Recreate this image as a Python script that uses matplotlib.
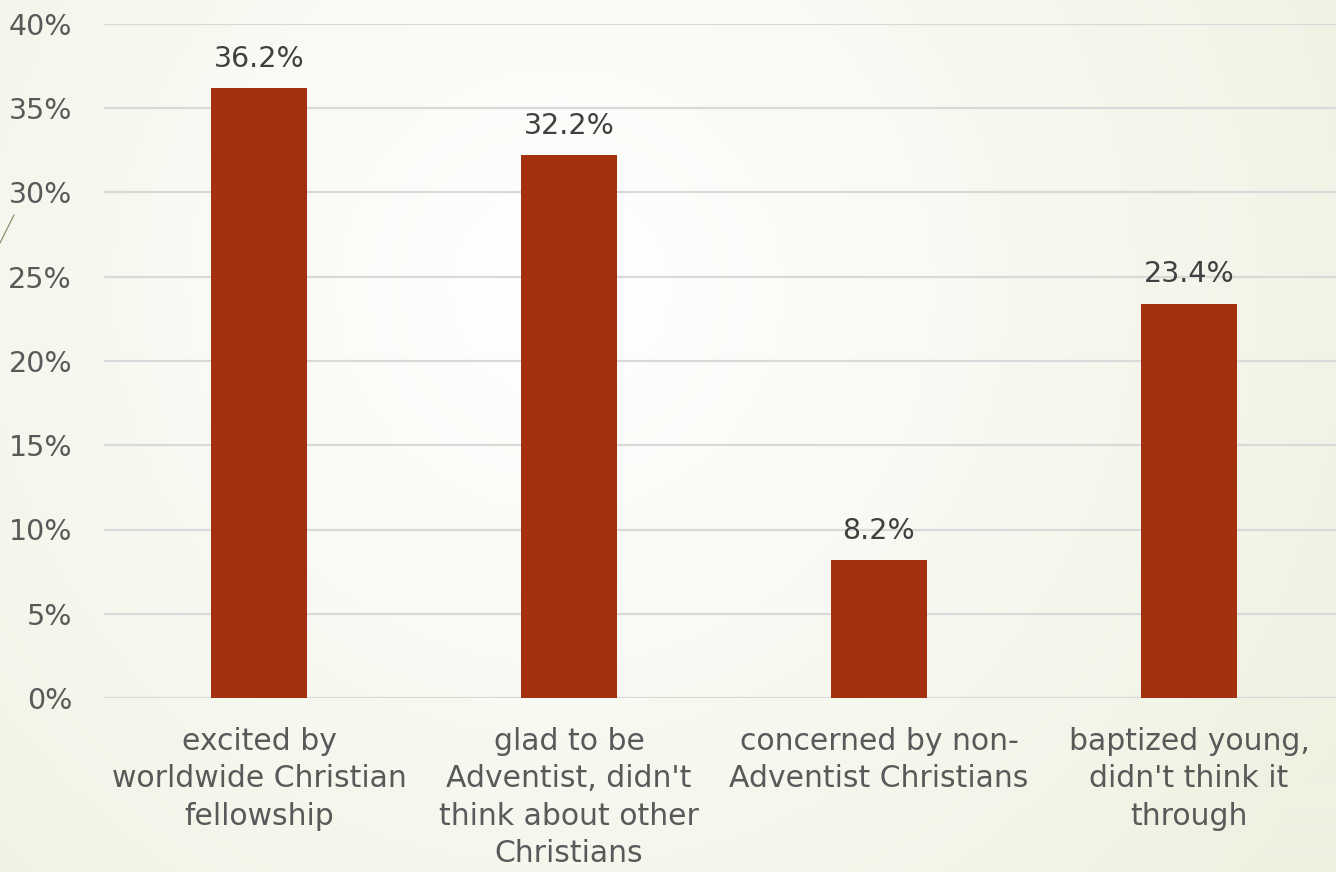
import numpy as np
import matplotlib
matplotlib.use("Agg")
import matplotlib.pyplot as plt
from matplotlib.colors import LinearSegmentedColormap
from matplotlib.lines import Line2D

categories = [
    "excited by\nworldwide Christian\nfellowship",
    "glad to be\nAdventist, didn't\nthink about other\nChristians",
    "concerned by non-\nAdventist Christians",
    "baptized young,\ndidn't think it\nthrough",
]
values = [36.2, 32.2, 8.2, 23.4]
y_ticks = [0, 5, 10, 15, 20, 25, 30, 35, 40]
y_tick_labels = [f"{t}%" for t in y_ticks]

font = ["DejaVu Sans"]
plt.rcParams["font.family"] = font

W, H = 1336, 872
fig = plt.figure(figsize=(W / 100, H / 100), dpi=100)

# radial gradient background
bg = fig.add_axes([0, 0, 1, 1], zorder=-10)
yy, xx = np.mgrid[0:H, 0:W]
cx, cy = 560, 290
r = np.sqrt((xx - cx) ** 2 + (yy - cy) ** 2)
r = np.clip(r / 900.0, 0, 1)
cmap = LinearSegmentedColormap.from_list("bg", ["#FFFFFF", "#F7F9F1", "#EEF2E1"])
bg.imshow(r, cmap=cmap, aspect="auto", extent=[0, W, H, 0], vmin=0, vmax=1)
bg.set_axis_off()

# small slide decoration line
fig.add_artist(Line2D([0 / W, 14 / W], [1 - 243 / H, 1 - 215 / H],
                      transform=fig.transFigure, color="#8C8060", lw=0.8))

ax = fig.add_axes([104 / W, (H - 698) / H, 1240 / W, 674 / H])
ax.patch.set_alpha(0)
x = np.arange(len(categories))
ax.bar(x, values, width=0.31, color="#A3300F", zorder=3)
ax.set_xlim(-0.5, len(categories) - 0.5)
ax.set_ylim(0, 40)
ax.set_yticks(y_ticks)
ax.set_yticklabels(y_tick_labels)
ax.yaxis.grid(True, color="#D9D9D9", lw=1.6, zorder=0)
ax.set_axisbelow(True)
for s in ax.spines.values():
    s.set_visible(False)
ax.tick_params(axis="y", length=0, pad=23, labelsize=20.5, labelcolor="#595959")
ax.tick_params(axis="x", length=0, pad=21, labelsize=21.5, labelcolor="#595959")
ax.set_xticks(x)
ax.set_xticklabels(categories, linespacing=1.36)

for xi, v in zip(x, values):
    ax.annotate(f"{v:.1f}%", (xi, v), xytext=(0, 11), textcoords="offset points",
                ha="center", va="bottom", fontsize=20.5, color="#404040")

fig.savefig("out.png", dpi=100)
